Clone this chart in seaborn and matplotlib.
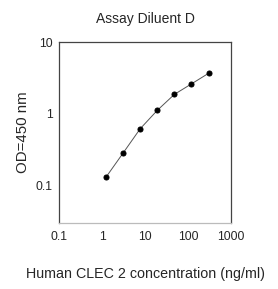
import matplotlib
matplotlib.use("Agg")
import matplotlib.pyplot as plt
import seaborn as sns
import pandas as pd
from matplotlib.ticker import FixedLocator, FixedFormatter, NullLocator

concentration = [1.23, 3.07, 7.68, 19.2, 48.0, 120.0, 300.0]
od450 = [0.131, 0.284, 0.62, 1.12, 1.87, 2.62, 3.68]
x_ticks = [0.1, 1, 10, 100, 1000]
x_labels = ["0.1", "1", "10", "100", "1000"]
y_ticks = [0.1, 1, 10]
y_labels = ["0.1", "1", "10"]

sns.set_style("white")
plt.rcParams['font.family'] = ['Liberation Sans', 'DejaVu Sans']

df = pd.DataFrame({"conc": concentration, "od": od450})

fig = plt.figure(figsize=(2.78, 2.89), dpi=100)
ax = fig.add_axes([0.213, 0.229, 0.618, 0.625])
sns.lineplot(data=df, x="conc", y="od", ax=ax, color="#555555", linewidth=0.7,
             marker="o", markersize=3.6, markerfacecolor="black", markeredgecolor="black")
ax.set_xscale("log")
ax.set_yscale("log")
ax.set_xlim(0.1, 1000)
ax.set_ylim(10 ** -1.52, 10)
ax.xaxis.set_major_locator(FixedLocator(x_ticks))
ax.xaxis.set_major_formatter(FixedFormatter(x_labels))
ax.yaxis.set_major_locator(FixedLocator(y_ticks))
ax.yaxis.set_major_formatter(FixedFormatter(y_labels))
ax.xaxis.set_minor_locator(NullLocator())
ax.yaxis.set_minor_locator(NullLocator())
ax.tick_params(axis="x", direction="in", length=2, width=0.8, color="#aaaaaa", labelsize=8.8, pad=6)
ax.tick_params(axis="y", direction="out", length=1.5, width=0.8, color="#555555", labelsize=8.8, pad=3)
for s in ["left", "top", "right"]:
    ax.spines[s].set_color("#444444")
    ax.spines[s].set_linewidth(0.9)
ax.spines["bottom"].set_color("#bbbbbb")
ax.spines["bottom"].set_linewidth(0.9)
ax.set_xlabel("Human CLEC 2 concentration (ng/ml)", fontsize=10.3, labelpad=17)
ax.set_ylabel("OD=450 nm", fontsize=10.8, labelpad=4)
ax.set_title("Assay Diluent D", fontsize=10, pad=14)
fig.savefig("out.png", dpi=100)
